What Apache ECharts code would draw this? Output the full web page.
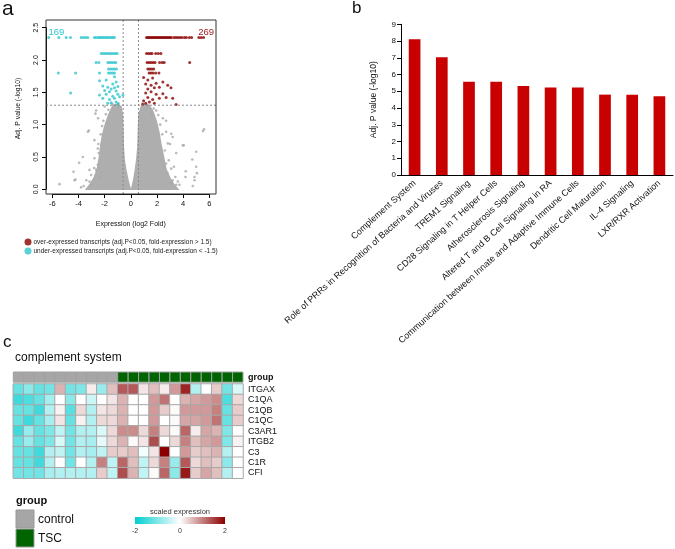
<!DOCTYPE html>
<html><head><meta charset="utf-8">
<script src="https://cdn.jsdelivr.net/npm/echarts@6/dist/echarts.min.js"></script>
<style>html,body{margin:0;padding:0;background:#fff}#c{width:675px;height:549px}</style>
</head><body><div id="c"></div>
<script>
// ---------- Panel a: volcano ----------
const volcanoXTicks = [-6, -4, -2, 0, 2, 4, 6];
const fcCut = [-0.585, 0.585];
const pCut = [1.301];
const nDown = '169';
const nUp = '269';
// dense grey cloud outlines (log2FC, -log10 adj.P)
const denseLeft = [[-1.35,1.3],[-1.05,1.31],[-0.75,1.28],[-0.64,1.15],[-0.6,0.9],[-0.57,0.65],[-0.5,0.45],[-0.38,0.3],[-0.22,0.14],[-0.1,0.05],[-0.04,0.0],[-3.4,0.0],[-3.1,0.08],[-2.8,0.18],[-2.55,0.32],[-2.4,0.5],[-2.28,0.7],[-2.15,0.85],[-1.95,1.0],[-1.75,1.12],[-1.55,1.22]];
const denseRight = [[0.05,0.0],[0.12,0.05],[0.22,0.14],[0.35,0.3],[0.45,0.45],[0.54,0.65],[0.58,0.9],[0.62,1.15],[0.8,1.28],[1.1,1.31],[1.4,1.3],[1.7,1.2],[1.95,1.05],[2.15,0.88],[2.3,0.7],[2.5,0.5],[2.7,0.3],[3.0,0.17],[3.3,0.07],[3.6,0.0]];
const greyPts = [[-5.45,0.08],[-4.3,0.14],[-4.23,0.15],[-3.95,0.41],[-4.38,0.27],[-3.67,0.5],[-3.28,0.89],[-3.2,0.91],[-2.7,1.17],[-2.65,1.22],[-2.5,1.1],[-2.19,0.98],[-2.0,1.28],[-2.52,0.63],[-2.78,0.48],[-2.65,0.3],[-3.03,0.22],[-3.16,0.12],[-3.4,0.14],[-2.4,0.19],[-2.78,0.76],[-3.16,0.3],[-3.03,0.08],[-2.8,0.33],[-2.52,0.38],[-2.45,0.56],[-2.3,0.85],[-2.48,0.7],[-1.9,1.16],[-1.72,1.23],[-2.1,1.06],[-3.6,0.05],[-3.8,0.03],[-1.4,1.32],[-0.95,1.33],
[5.6,0.93],[5.52,0.9],[4.05,0.68],[5.0,0.58],[4.7,0.46],[5.0,0.35],[5.05,0.25],[4.87,0.14],[3.72,0.07],[3.09,0.32],[2.83,0.71],[3.47,0.56],[3.09,0.86],[2.7,0.89],[3.0,0.7],[2.45,1.1],[1.94,1.22],[1.56,1.16],[3.2,0.14],[3.4,0.19],[4.2,0.28],[2.8,0.25],[3.98,0.68],[3.2,0.81],[2.7,1.06],[4.87,0.19],[3.09,0.1],[3.47,0.07],[4.18,0.19],[4.74,0.05],[2.7,0.4],[2.6,0.6],[2.4,0.85],[2.25,1.0],[2.9,0.45],[3.3,0.35],[3.6,0.12],[1.3,1.29],[1.75,1.25],[2.1,1.15],[0.9,1.33]];
const upPts = [[1.2,2.35],[1.3,2.35],[1.4,2.35],[1.5,2.35],[1.6,2.35],[1.7,2.35],[1.8,2.35],[1.9,2.35],[2.0,2.35],[2.1,2.35],[2.2,2.35],[2.3,2.35],[2.4,2.35],[2.5,2.35],[2.6,2.35],[2.7,2.35],[2.8,2.35],[2.9,2.35],[3.0,2.35],[3.1,2.35],[3.3,2.35],[3.45,2.35],[3.6,2.35],[3.75,2.35],[3.9,2.35],[4.1,2.35],[4.25,2.35],[4.47,2.35],[4.65,2.35],[5.2,2.35],[5.38,2.35],[5.56,2.35],
[1.2,2.1],[1.35,2.1],[1.5,2.1],[1.62,2.1],[1.9,2.1],[2.1,2.1],[2.3,2.1],
[1.25,1.96],[1.4,1.96],[1.55,1.96],[1.7,1.96],[1.85,1.96],[2.2,1.96],[2.4,1.96],[2.55,1.96],[4.5,1.96],
[1.3,1.86],[1.45,1.86],[1.6,1.86],[1.75,1.86],
[1.4,1.8],[1.55,1.8],[1.7,1.8],[1.9,1.8],[2.15,1.8],
[0.98,1.73],[1.3,1.69],[1.67,1.72],[1.14,1.63],[1.55,1.61],[1.94,1.64],[2.45,1.66],[1.3,1.55],[1.8,1.57],[2.18,1.58],[2.82,1.61],[3.07,1.57],[1.14,1.49],[1.55,1.51],[1.94,1.47],[2.45,1.48],[1.3,1.42],[1.67,1.39],[2.18,1.41],[2.7,1.42],[3.2,1.41],[0.98,1.37],[1.42,1.35],[1.8,1.33],[0.91,1.31],[3.46,1.31],[1.14,1.33]];
const downPts = [[-6.27,2.35],[-5.5,2.35],[-4.94,2.35],[-4.61,2.35],[-3.79,2.35],[-3.62,2.35],[-3.46,2.35],[-3.29,2.35],[-2.78,2.35],[-2.65,2.35],[-2.49,2.35],[-2.39,2.35],[-2.26,2.35],[-2.14,2.35],[-2.01,2.35],[-1.88,2.35],[-1.76,2.35],[-1.63,2.35],[-1.5,2.35],[-1.38,2.35],[-1.25,2.35],
[-2.26,2.1],[-2.1,2.1],[-1.95,2.1],[-1.8,2.1],[-1.65,2.1],[-1.5,2.1],[-1.35,2.1],[-1.2,2.1],[-1.05,2.1],
[-2.65,1.96],[-2.44,1.96],[-1.75,1.96],[-1.6,1.96],[-1.45,1.96],[-1.3,1.96],[-1.15,1.96],
[-1.7,1.86],[-1.55,1.86],[-1.4,1.86],[-1.25,1.86],[-1.1,1.86],
[-5.54,1.8],[-4.22,1.8],[-2.39,1.8],[-1.7,1.8],[-1.55,1.8],[-1.4,1.8],[-1.25,1.8],
[-1.25,1.74],[-1.88,1.69],[-2.39,1.68],[-1.38,1.63],[-1.12,1.66],[-2.14,1.6],[-1.76,1.58],[-1.5,1.55],[-1.25,1.57],[-0.99,1.59],[-2.0,1.53],[-1.63,1.51],[-1.12,1.52],[-2.39,1.46],[-1.88,1.47],[-1.38,1.44],[-0.99,1.47],[-2.14,1.41],[-1.63,1.39],[-1.25,1.41],[-0.86,1.43],[-0.6,1.46],[-1.5,1.34],[-1.12,1.35],[-1.76,1.33],[-0.99,1.32],[-4.6,1.49]];

// ---------- Panel b: pathways ----------
const pathways = ['Complement System','Role of PRRs in Recognition of Bacteria and Viruses','TREM1 Signaling','CD28 Signaling in T Helper Cells','Atherosclerosis Signaling','Altered T and B Cell Signaling in RA','Communication between Innate and Adaptive Immune Cells','Dendritic Cell Maturation','IL-4 Signaling','LXR/RXR Activation'];
const pathwayP = [8.1, 7.03, 5.57, 5.57, 5.32, 5.23, 5.23, 4.8, 4.8, 4.7];

// ---------- Panel c: heatmap ----------
const genes = ['ITGAX','C1QA','C1QB','C1QC','C3AR1','ITGB2','C3','C1R','CFI'];
const sampleGroup = ['control','control','control','control','control','control','control','control','control','control','TSC','TSC','TSC','TSC','TSC','TSC','TSC','TSC','TSC','TSC','TSC','TSC'];
const groupNames = ['control','TSC'];
const scaleTicks = [-2, 0, 2];
const exprITGAX = [-1.2,-0.9,-1.2,-1.1,0.6,-1.1,-1.0,0.15,-0.8,0.5,1.3,1.3,0.2,0.5,0.15,0.8,1.7,-0.6,0,0.4,-1.1,-0.3];
const exprC1QA  = [-1.5,-1.4,-1.2,-0.7,0,-0.9,0,-0.4,0,0.2,0.6,0,0,0.8,1.1,0,0.6,0.7,0.8,0.9,-1.4,0.3];
const exprC1QB  = [-1.2,-1.2,-1.5,-0.6,0.1,-1.3,0.3,-0.6,0.2,0.3,0.6,0,0,0.8,0.4,0.05,0.8,0.8,0.8,1.0,-1.2,0.4];
const exprC1QC  = [-1.2,-1.5,-1.2,-0.7,0.2,-1.2,0.1,-0.6,0.3,0.3,0.6,0,0,0.8,0,0.05,0.7,0.7,0.8,1.1,-1.2,0.4];
const exprC3AR1 = [-1.5,-0.8,-1.2,-1.0,-0.5,-1.1,-0.6,-0.6,-0.3,0.3,0.9,0.9,0.3,1.0,0.3,0.05,1.2,0.15,0.7,0.6,-1.0,0];
const exprITGB2 = [-1.2,-0.8,-1.2,-1.0,-0.3,-1.1,-0.6,-0.7,-0.2,0.3,0.6,0.05,0.2,1.4,0,0.3,1.0,0.5,0.7,0.8,-1.0,0.1];
const exprC3    = [-1.2,-1.2,-1.5,-0.6,-0.5,-1.1,-0.6,-0.7,-0.5,0.4,0.4,0.5,-0.1,0.2,2.0,0,0.8,0.4,0.5,0.6,-0.6,0];
const exprC1R   = [-1.2,-1.2,-1.5,-0.6,0,-1.1,0,-0.6,1.0,-0.5,1.2,0.5,-0.5,0.3,1.0,-0.8,1.3,0.3,0.5,0.4,-0.9,0];
const exprCFI   = [-1.1,-1.1,-1.1,-0.7,-0.6,-0.6,-0.6,-0.6,0.4,-0.5,1.4,0.6,-0.5,0.05,1.2,-0.9,1.8,0.4,0.7,0.5,-0.6,0];

// ---------- build ----------
const FONT = '"Liberation Sans", Arial, sans-serif';
const CYAN = '#2EC6CE', DRED = '#8B0000', GREY = '#A8A8A8';
const BOX = {left: 46, right: 216, top: 20, bottom: 194};
const exprRows = [exprITGAX, exprC1QA, exprC1QB, exprC1QC, exprC3AR1, exprITGB2, exprC3, exprC1R, exprCFI];
const heatData = [];
exprRows.forEach((row, r) => row.forEach((v, c) => heatData.push([c, r, v])));
const sampleIdx = sampleGroup.map((g, i) => String(i));
const groupData = sampleGroup.map((g, i) => [i, 0, groupNames.indexOf(g)]);
const groupColors = ['#A6A6A6', '#006400'];

const chart = echarts.init(document.getElementById('c'), null, {renderer: 'canvas'});
chart.setOption({
  animation: false,
  textStyle: {fontFamily: FONT},
  grid: [
    {left: 52.3, top: 27.7, width: 157, height: 161.6},
    {left: 401, top: 24.3, width: 272, height: 150.7},
    {left: 13.3, top: 372, width: 229.7, height: 10.2},
    {left: 13.3, top: 384, width: 229.7, height: 94.2},
    {left: 135, top: 517, width: 90, height: 7, show: true, borderWidth: 0,
     backgroundColor: {type: 'linear', x: 0, y: 0, x2: 1, y2: 0, colorStops: [{offset: 0, color: '#00CED1'}, {offset: 0.5, color: '#FFFFFF'}, {offset: 1, color: '#8B0000'}]}}
  ],
  xAxis: [
    {gridIndex: 0, type: 'value', min: -6, max: 6, interval: 2, offset: 4.7,
     axisLine: {onZero: false, lineStyle: {color: '#000', width: 1}}, axisTick: {length: 4, lineStyle: {color: '#000'}},
     axisLabel: {fontSize: 7.5, margin: 6, color: '#111', fontFamily: FONT}, splitLine: {show: false},
     name: 'Expression (log2 Fold)', nameLocation: 'middle', nameGap: 27, nameTextStyle: {fontSize: 7, color: '#111', fontFamily: FONT}},
    {gridIndex: 1, type: 'category', data: pathways,
     axisLine: {lineStyle: {color: '#000', width: 1}}, axisTick: {length: 4, lineStyle: {color: '#000'}},
     axisLabel: {rotate: 42, interval: 0, fontSize: 9, margin: 7, color: '#111', fontFamily: FONT}},
    {gridIndex: 2, type: 'category', data: sampleIdx, show: false},
    {gridIndex: 3, type: 'category', data: sampleIdx, show: false},
    {gridIndex: 4, type: 'value', min: -2, max: 2, interval: 2, axisLine: {show: false}, axisTick: {show: false},
     splitLine: {show: false}, axisLabel: {fontSize: 7, margin: 4, color: '#333', fontFamily: FONT}}
  ],
  yAxis: [
    {gridIndex: 0, type: 'value', min: 0, max: 2.5, interval: 0.5, offset: 6.3,
     axisLine: {show: true, onZero: false, lineStyle: {color: '#000', width: 1}}, axisTick: {show: true, length: 4, lineStyle: {color: '#000'}},
     axisLabel: {rotate: 90, fontSize: 7, margin: 6, color: '#111', fontFamily: FONT, formatter: v => v.toFixed(1)}, splitLine: {show: false},
     name: 'Adj. P value (-log10)', nameLocation: 'middle', nameGap: 24, nameTextStyle: {fontSize: 6.8, color: '#111', fontFamily: FONT}},
    {gridIndex: 1, type: 'value', min: 0, max: 9, interval: 1,
     axisLine: {show: true, lineStyle: {color: '#000', width: 1}}, axisTick: {show: true, length: 4, lineStyle: {color: '#000'}},
     axisLabel: {fontSize: 8, margin: 5, color: '#111', fontFamily: FONT}, splitLine: {show: false},
     name: 'Adj. P value (-log10)', nameLocation: 'middle', nameGap: 23, nameTextStyle: {fontSize: 8.5, color: '#111', fontFamily: FONT}},
    {gridIndex: 2, type: 'category', data: ['group'], position: 'right', axisLine: {show: false}, axisTick: {show: false},
     axisLabel: {fontSize: 9, fontWeight: 'bold', margin: 5, color: '#111', fontFamily: FONT}},
    {gridIndex: 3, type: 'category', data: genes, inverse: true, position: 'right', axisLine: {show: false}, axisTick: {show: false},
     axisLabel: {interval: 0, fontSize: 9, margin: 5, color: '#111', fontFamily: FONT}},
    {gridIndex: 4, type: 'value', show: false, min: 0, max: 1}
  ],
  legend: {
    data: ['over-expressed transcripts (adj.P<0.05, fold-expression > 1.5)', 'under-expressed transcripts (adj.P<0.05, fold-expression < -1.5)'],
    orient: 'vertical', left: 24.5, top: 238.5, padding: 0, itemGap: 2, itemWidth: 7, itemHeight: 7, icon: 'circle',
    textStyle: {fontSize: 6.5, color: '#222', fontFamily: FONT, padding: [0, 0, 0, -3]}
  },
  visualMap: {show: false, min: -2, max: 2, seriesIndex: 7, inRange: {color: ['#00CED1', '#FFFFFF', '#8B0000']}},
  series: [
    {type: 'custom', xAxisIndex: 0, yAxisIndex: 0, data: [[0, 0]], clip: false, z: 1, silent: true,
     renderItem: (p, api) => p.dataIndex ? null : ({type: 'group', children: [denseLeft, denseRight].map(w => ({
       type: 'polygon', shape: {points: w.map(q => api.coord(q))}, style: {fill: '#AEAEAE', stroke: '#AEAEAE', lineWidth: 1.5}}))})},
    {type: 'scatter', xAxisIndex: 0, yAxisIndex: 0, data: greyPts, symbolSize: 2.6, clip: false, z: 2, itemStyle: {color: GREY}, silent: true},
    {type: 'scatter', name: 'over-expressed transcripts (adj.P<0.05, fold-expression > 1.5)', xAxisIndex: 0, yAxisIndex: 0, data: upPts, symbolSize: 3, clip: false, z: 3, itemStyle: {color: DRED}},
    {type: 'scatter', name: 'under-expressed transcripts (adj.P<0.05, fold-expression < -1.5)', xAxisIndex: 0, yAxisIndex: 0, data: downPts, symbolSize: 3, clip: false, z: 3, itemStyle: {color: CYAN}},
    {type: 'custom', xAxisIndex: 0, yAxisIndex: 0, data: [[0, 0]], clip: false, z: 4, silent: true,
     renderItem: (p, api) => {
       if (p.dataIndex) return null;
       const ch = [];
       fcCut.forEach(v => { const x = api.coord([v, 0])[0];
         ch.push({type: 'line', shape: {x1: x, y1: BOX.top, x2: x, y2: BOX.bottom}, style: {stroke: '#8A8A8A', lineWidth: 1, lineDash: [2, 2]}}); });
       pCut.forEach(v => { const y = api.coord([0, v])[1];
         ch.push({type: 'line', shape: {x1: BOX.left, y1: y, x2: BOX.right, y2: y}, style: {stroke: '#8A8A8A', lineWidth: 1, lineDash: [2, 2]}}); });
       return {type: 'group', children: ch};
     }},
    {type: 'bar', xAxisIndex: 1, yAxisIndex: 1, data: pathwayP, barWidth: 11.7, itemStyle: {color: '#C80000'}},
    {type: 'custom', xAxisIndex: 2, yAxisIndex: 2, data: groupData,
     renderItem: (p, api) => { const c = api.coord([api.value(0), api.value(1)]); const s = api.size([1, 1]);
       return {type: 'rect', shape: {x: c[0] - s[0] / 2, y: c[1] - s[1] / 2, width: s[0], height: s[1]},
         style: {fill: groupColors[api.value(2)], stroke: '#A0A0A0', lineWidth: 1}}; }},
    {type: 'heatmap', xAxisIndex: 3, yAxisIndex: 3, data: heatData, itemStyle: {borderColor: '#A8A8A8', borderWidth: 1}}
  ],
  graphic: [
    {type: 'rect', shape: {x: BOX.left, y: BOX.top, width: BOX.right - BOX.left, height: BOX.bottom - BOX.top}, style: {fill: null, stroke: '#333', lineWidth: 1}, z: 10, silent: true},
    {type: 'text', left: 2, top: -1, style: {text: 'a', font: '21px ' + FONT, fill: '#111'}},
    {type: 'text', left: 352, top: 0, style: {text: 'b', font: '17px ' + FONT, fill: '#111'}},
    {type: 'text', left: 3, top: 334, style: {text: 'c', font: '17px ' + FONT, fill: '#111'}},
    {type: 'text', x: 48.5, y: 32, style: {text: nDown, font: '9.5px ' + FONT, fill: CYAN, textVerticalAlign: 'middle'}, z: 20},
    {type: 'text', x: 214, y: 32, style: {text: nUp, font: '9.5px ' + FONT, fill: '#9A1A1A', textAlign: 'right', textVerticalAlign: 'middle'}, z: 20},
    {type: 'text', x: 15, y: 358, style: {text: 'complement system', font: '12px ' + FONT, fill: '#111', textVerticalAlign: 'middle'}},
    {type: 'text', x: 16, y: 501, style: {text: 'group', font: 'bold 11px ' + FONT, fill: '#111', textVerticalAlign: 'middle'}},
    {type: 'rect', shape: {x: 16, y: 510, width: 18, height: 18}, style: {fill: groupColors[0], stroke: '#999', lineWidth: 1}},
    {type: 'rect', shape: {x: 16, y: 529, width: 18, height: 18}, style: {fill: groupColors[1], stroke: '#999', lineWidth: 1}},
    {type: 'text', x: 38, y: 519.5, style: {text: groupNames[0], font: '12px ' + FONT, fill: '#111', textVerticalAlign: 'middle'}},
    {type: 'text', x: 38, y: 538.5, style: {text: groupNames[1], font: '12px ' + FONT, fill: '#111', textVerticalAlign: 'middle'}},
    {type: 'text', x: 180, y: 512, style: {text: 'scaled expression', font: '7.5px ' + FONT, fill: '#333', textAlign: 'center', textVerticalAlign: 'middle'}}
  ]
});
</script></body></html>
